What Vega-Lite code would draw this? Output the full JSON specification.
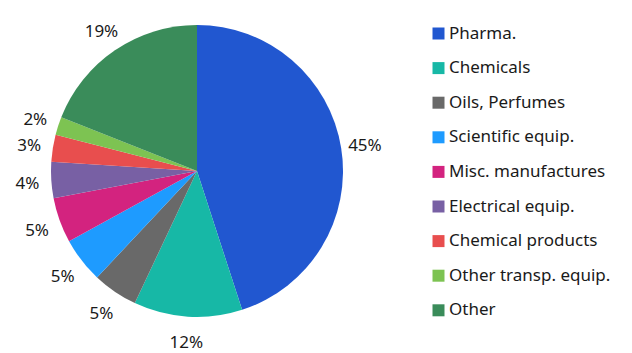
{
  "$schema": "https://vega.github.io/schema/vega-lite/v6.json",
  "width": 394,
  "height": 342,
  "padding": 0,
  "autosize": {"type": "pad"},
  "background": "white",
  "config": {"view": {"stroke": null}, "font": "Noto Sans"},
  "data": {"values": [
    {"idx": 1, "cat": "Pharma.", "share": 45, "label": "45%"},
    {"idx": 2, "cat": "Chemicals", "share": 12, "label": "12%"},
    {"idx": 3, "cat": "Oils, Perfumes", "share": 5, "label": "5%"},
    {"idx": 4, "cat": "Scientific equip.", "share": 5, "label": "5%"},
    {"idx": 5, "cat": "Misc. manufactures", "share": 5, "label": "5%"},
    {"idx": 6, "cat": "Electrical equip.", "share": 4, "label": "4%"},
    {"idx": 7, "cat": "Chemical products", "share": 3, "label": "3%"},
    {"idx": 8, "cat": "Other transp. equip.", "share": 2, "label": "2%"},
    {"idx": 9, "cat": "Other", "share": 19, "label": "19%"}
  ]},
  "encoding": {
    "theta": {"field": "share", "type": "quantitative", "stack": true},
    "order": {"field": "idx", "type": "quantitative"}
  },
  "layer": [
    {
      "mark": {"type": "arc", "outerRadius": 146},
      "encoding": {
        "color": {
          "field": "cat", "type": "nominal", "sort": null,
          "scale": {
            "domain": ["Pharma.", "Chemicals", "Oils, Perfumes", "Scientific equip.", "Misc. manufactures", "Electrical equip.", "Chemical products", "Other transp. equip.", "Other"],
            "range": ["#2157D0", "#17B8A6", "#696969", "#1E9BFF", "#D3237F", "#7860A4", "#E84E4E", "#7DC352", "#3A8C5A"]
          },
          "legend": {
            "title": null,
            "orient": "none",
            "legendX": 430,
            "legendY": 25,
            "symbolType": "square",
            "symbolSize": 144,
            "symbolStrokeWidth": 0,
            "labelFontSize": 17,
            "labelColor": "#1a1a1a",
            "labelOffset": 2,
            "rowPadding": 16.6,
            "labelLimit": 300
          }
        }
      }
    },
    {
      "mark": {"type": "text", "radius": 170, "fontSize": 17, "color": "#1a1a1a", "dy": 2},
      "encoding": {"text": {"field": "label"}}
    }
  ]
}
